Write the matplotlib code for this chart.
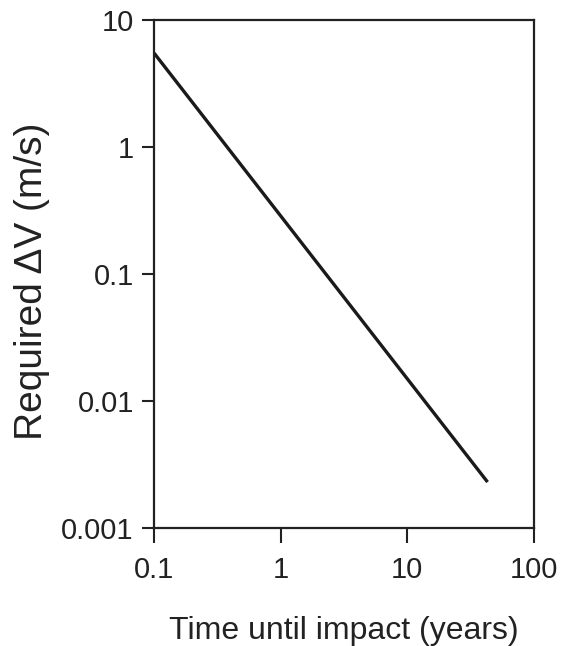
import matplotlib
matplotlib.use('Agg')
import matplotlib.pyplot as plt

# Required delta-V versus warning time (log-log)
years = [0.1, 43]
delta_v = [5.5, 0.0023]

x_ticks = [0.1, 1, 10, 100]
x_labels = ['0.1', '1', '10', '100']
y_ticks = [0.001, 0.01, 0.1, 1, 10]
y_labels = ['0.001', '0.01', '0.1', '1', '10']

plt.rcParams['font.family'] = ['Liberation Sans', 'DejaVu Sans']

fig = plt.figure(figsize=(5.75, 6.46), dpi=100)
ax = fig.add_axes([154 / 575, 1 - 528 / 646, 380 / 575, 508 / 646])

ax.plot(years, delta_v, color='#1a1a1a', linewidth=2.4, solid_capstyle='butt')

ax.set_xscale('log')
ax.set_yscale('log')
ax.set_xlim(0.1, 100)
ax.set_ylim(0.001, 10)
ax.set_xticks(x_ticks)
ax.set_xticklabels(x_labels)
ax.set_yticks(y_ticks)
ax.set_yticklabels(y_labels)
ax.minorticks_off()
ax.tick_params(direction='out', length=11, width=1.5, color='#222222',
               labelsize=21, pad=9, labelcolor='#222222')
ax.tick_params(axis='y', length=8.5, pad=6)
for s in ax.spines.values():
    s.set_linewidth(1.6)
    s.set_color('#222222')

ax.set_xlabel('Time until impact (years)', fontsize=23, labelpad=23, color='#222222')
ax.set_ylabel('Required \u0394V (m/s)', fontsize=28, labelpad=8, color='#222222')
ax.yaxis.label.set_y(0.486)

fig.savefig('out.png', dpi=100)
